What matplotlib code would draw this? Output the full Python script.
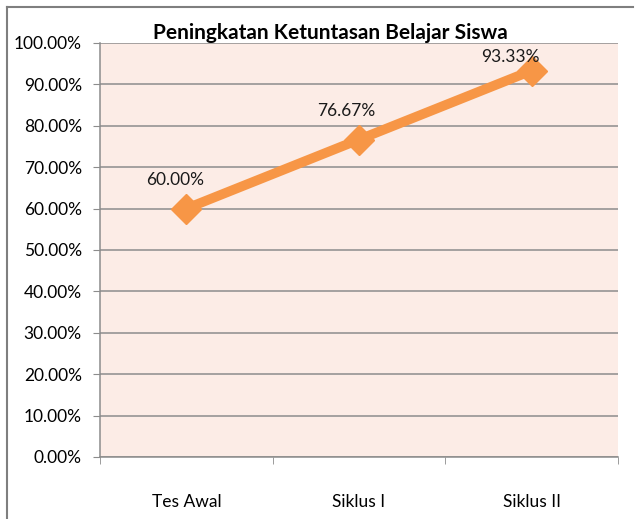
import matplotlib.pyplot as plt
from matplotlib.lines import Line2D
from matplotlib.ticker import FuncFormatter

# data
categories = ['Tes Awal', 'Siklus I', 'Siklus II']
ketuntasan = [60.00, 76.67, 93.33]
title = 'Peningkatan Ketuntasan Belajar Siswa'

plt.rcParams['font.family'] = ['Lato', 'DejaVu Sans']

fig = plt.figure(figsize=(6.36, 5.19), dpi=100)
ax = fig.add_axes([0.1572, 0.1195, 0.8145, 0.7977])

ax.set_facecolor('#FCECE6')
xs = list(range(len(categories)))
ax.plot(xs, ketuntasan, color='#F79646', linewidth=7, marker='D',
        markersize=15, markeredgecolor='#F79646', solid_capstyle='butt', zorder=3)

# data labels sit above the point, but are kept inside the plot area like excel does
label_dx = [-11, -13, -21]
for x, v, dx in zip(xs, ketuntasan, label_dx):
    ax.annotate(f'{v:.2f}%', (x, min(v + 6.8, 96.6)), xytext=(dx, 0),
                textcoords='offset pixels', ha='center', va='center',
                fontsize=12.5, color='#1a1a1a')

ax.set_ylim(0, 100)
ax.set_yticks(range(0, 101, 10))
ax.yaxis.set_major_formatter(FuncFormatter(lambda v, p: f'{v:.2f}%'))
ax.grid(axis='y', color='#8c8c8c', linewidth=1.1)
ax.set_axisbelow(True)

ax.set_xlim(-0.5, len(categories) - 0.5)
ax.set_xticks(xs)
ax.set_xticklabels(categories)
ax.set_xticks([i - 0.5 for i in range(len(categories) + 1)], minor=True)
ax.tick_params(axis='x', which='major', length=0, pad=27, labelsize=12.5)
ax.tick_params(axis='x', which='minor', length=5, color='#8c8c8c', direction='out')
ax.tick_params(axis='y', length=5, color='#8c8c8c', pad=8, labelsize=12.5)

for s in ['top', 'right']:
    ax.spines[s].set_visible(False)
for s in ['left', 'bottom']:
    ax.spines[s].set_color('#8c8c8c')
    ax.spines[s].set_linewidth(1.1)

fig.text(0.519, 0.924, title, ha='center', va='baseline', fontsize=15, fontweight='bold')

# outer chart frame
fig.add_artist(Line2D([0.011, 0.011], [0, 0.987], color='#7f7f7f', linewidth=1.5))
fig.add_artist(Line2D([0.011, 0.995], [0.987, 0.987], color='#7f7f7f', linewidth=1.5))

fig.savefig('out.png', dpi=100)
